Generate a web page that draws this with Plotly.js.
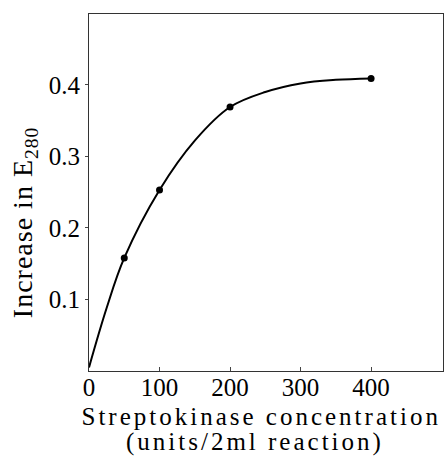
<!DOCTYPE html>
<html>
<head>
<meta charset="utf-8">
<script src="https://cdn.plot.ly/plotly-3.0.1.min.js"></script>
<style>
html,body{margin:0;padding:0;background:#fff;}
#chart{width:444px;height:459px;}
#chart .annotation-text{letter-spacing:3px;}
#chart .annotation[data-index="0"] .annotation-text{letter-spacing:1px;}
</style>
</head>
<body>
<div id="chart"></div>
<script>
// Smooth fitted curve
var curveX = [0, 25, 50, 100, 150, 200, 250, 300, 350, 400];
var curveY = [0.005, 0.088, 0.158, 0.253, 0.322, 0.369, 0.390, 0.402, 0.407, 0.409];
// Measured points
var pointX = [50, 100, 200, 400];
var pointY = [0.158, 0.253, 0.369, 0.409];
// Tick labels
var xTicks = [0, 100, 200, 300, 400];
var xTickText = ['0', '100', '200', '300', '400'];
var yTicks = [0.1, 0.2, 0.3, 0.4];
var yTickText = ['0.1', '0.2', '0.3', '0.4'];

var serif = 'Liberation Serif, Times New Roman, serif';

var traces = [
  {x: curveX, y: curveY, mode: 'lines', line: {color: '#000', width: 2, shape: 'spline', smoothing: 1}, hoverinfo: 'skip'},
  {x: pointX, y: pointY, mode: 'markers', marker: {color: '#000', size: 7}}
];

var layout = {
  width: 444, height: 459,
  margin: {l: 89, r: 1, t: 14, b: 88},
  paper_bgcolor: '#fff', plot_bgcolor: '#fff',
  showlegend: false,
  font: {family: serif, color: '#000'},
  xaxis: {
    range: [0, 502], tickvals: xTicks, ticktext: xTickText,
    ticks: 'inside', ticklen: 4, tickcolor: '#444',
    showline: true, linecolor: '#333', linewidth: 1, mirror: true,
    showgrid: false, zeroline: false, ticklabelstandoff: -6,
    tickfont: {family: serif, size: 25, color: '#000'}
  },
  yaxis: {
    range: [0, 0.499], tickvals: yTicks, ticktext: yTickText,
    ticks: 'outside', ticklen: 3, tickcolor: '#444',
    showline: true, linecolor: '#333', linewidth: 1, mirror: true,
    showgrid: false, zeroline: false,
    tickfont: {family: serif, size: 25, color: '#000'}
  },
  annotations: [
    {text: 'Increase in E<sub>280</sub>', xref: 'paper', yref: 'paper', x: 0, xshift: -65, y: 0.417,
     xanchor: 'center', yanchor: 'middle', textangle: -90, showarrow: false,
     font: {family: serif, size: 28, color: '#000'}},
    {text: 'Streptokinase concentration', xref: 'paper', yref: 'paper', x: 0.487, y: 0,
     yshift: -30, xanchor: 'center', yanchor: 'top', showarrow: false,
     font: {family: serif, size: 25, color: '#000'}},
    {text: '(units/2ml reaction)', xref: 'paper', yref: 'paper', x: 0.468, y: 0,
     yshift: -55, xanchor: 'center', yanchor: 'top', showarrow: false,
     font: {family: serif, size: 25, color: '#000'}}
  ]
};

Plotly.newPlot('chart', traces, layout, {displayModeBar: false, staticPlot: true});
</script>
</body>
</html>
